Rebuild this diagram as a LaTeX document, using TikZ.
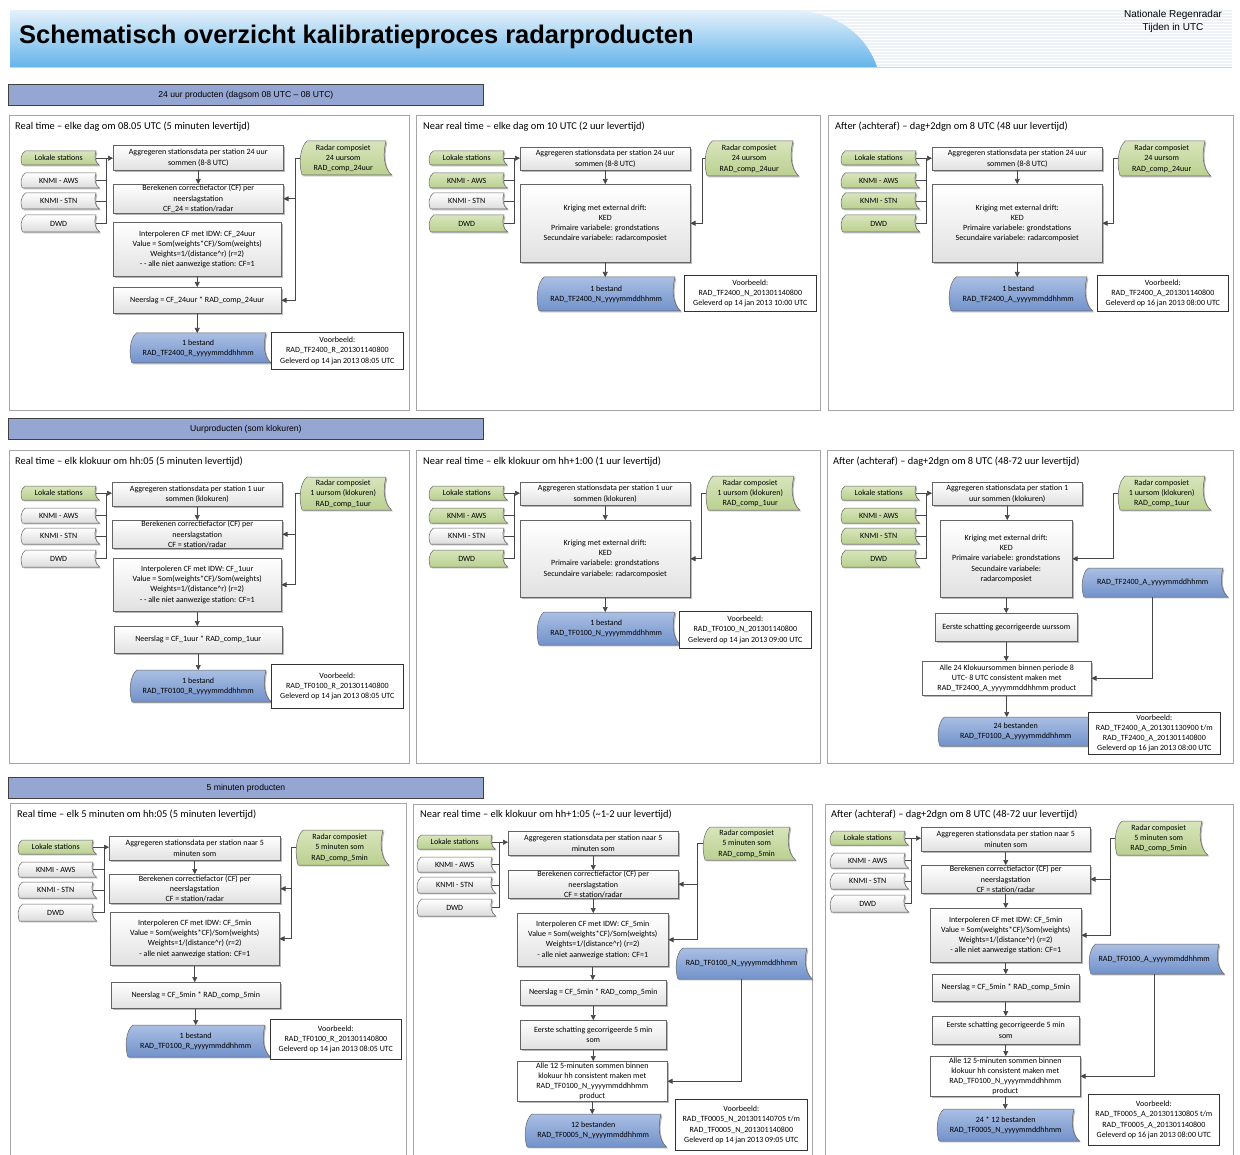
\documentclass[tikz,border=0pt]{standalone}
\usepackage{fontspec}
\setmainfont{Carlito}
\newfontfamily\arialf{Liberation Sans}
\usetikzlibrary{arrows.meta,shadows}
\definecolor{grnA}{RGB}{216,229,188}
\definecolor{grnB}{RGB}{186,208,144}
\definecolor{bluA}{RGB}{170,191,227}
\definecolor{bluB}{RGB}{114,146,203}
\definecolor{gryB}{RGB}{220,220,220}
\definecolor{boxB}{RGB}{225,225,225}
\definecolor{ec}{RGB}{100,100,100}
\definecolor{lc}{RGB}{70,70,70}
\definecolor{frm}{RGB}{165,165,165}
\definecolor{barF}{RGB}{150,166,210}
\definecolor{banA}{RGB}{228,241,251}
\definecolor{banB}{RGB}{100,180,234}
\definecolor{strp}{RGB}{236,242,248}
\tikzset{
 shad/.style={drop shadow={shadow xshift=1.4pt,shadow yshift=-1.4pt,opacity=0.28,fill=black}},
 txt/.style={font=\fontsize{8}{10.2}\selectfont, align=center, inner sep=0.5pt},
 box/.style={txt, draw=ec, line width=0.5pt, top color=white, bottom color=boxB, shad},
 wbox/.style={txt, draw=ec, line width=0.5pt, fill=white, shad},
 vbox/.style={txt, draw=black!80, line width=0.7pt, fill=white},
 tptxt/.style={txt, draw=none},
 tgrn/.style={draw=ec, line width=0.5pt, top color=grnA, bottom color=grnB, shad},
 tgry/.style={draw=ec, line width=0.5pt, top color=white, bottom color=gryB, shad},
 tblu/.style={draw=ec, line width=0.5pt, top color=bluA, bottom color=bluB, shad},
 lin/.style={draw=lc, line width=0.6pt},
 arr/.style={lin, -{Triangle[length=5pt,width=5pt]}},
 frame/.style={draw=frm, line width=0.8pt, fill=white, drop shadow={shadow xshift=1.2pt,shadow yshift=-1.2pt,opacity=0.22,fill=black}},
 secbar/.style={draw=black!75, line width=0.8pt, fill=barF, font=\arialf\fontsize{8.6}{10}\selectfont, inner sep=0pt},
 ptitle/.style={font=\fontsize{10.4}{12}\selectfont, anchor=west, inner sep=0pt},
}
% style, name, x1, y1, x2, y2, text
\newcommand\bx[7]{\node[#1, anchor=north west, minimum width={((#5)-(#3))*1pt}, minimum height={((#6)-(#4))*1pt}] (#2) at ({#3},{#4}) {#7};}
\newcommand\tp[7]{%
 \pgfmathsetmacro\tph{(#6)-(#4)}%
 \pgfmathsetmacro\tpa{2+0.15*\tph}%
 \path[#1] ({#3+\tpa},{#4}) -- ({#5},{#4})
   .. controls ({#5-0.5*\tpa},{#4+0.4*\tph}) and ({#5-0.3*\tpa},{#4+0.8*\tph}) .. ({#5+0.8*\tpa},{#6})
   -- ({#3+0.3*\tpa},{#6})
   .. controls ({#3-0.15*\tpa},{#4+0.75*\tph}) and ({#3-0.15*\tpa},{#4+0.2*\tph}) .. ({#3+\tpa},{#4}) -- cycle;
 \node[tptxt, anchor=north west, minimum width={((#5)-(#3))*1pt}, minimum height={((#6)-(#4))*1pt}] (#2) at ({#3},{#4}) {#7};}
% prefix, x, y, c1..c4, barx
\newcommand\stations[8]{%
 \tp{#4}{#1lok}{#2}{#3}{#2+75}{#3+14}{Lokale stations}%
 \tp{#5}{#1aws}{#2}{#3+22}{#2+75}{#3+37}{KNMI - AWS}%
 \tp{#6}{#1stn}{#2}{#3+42}{#2+75}{#3+58}{KNMI - STN}%
 \tp{#7}{#1dwd}{#2}{#3+64}{#2+75}{#3+81}{DWD}%
 \coordinate (#1bar) at ({#8},{#3});%
 \draw[lin] (#1aws.east) -- (#1aws.east -| #1bar);%
 \draw[lin] (#1stn.east) -- (#1stn.east -| #1bar);%
 \draw[lin] (#1dwd.east) -- (#1dwd.east -| #1bar) -- (#1lok.east -| #1bar);%
}
\newcommand\krigtxt{Kriging met external drift:\\KED\\Primaire variabele: grondstations\\Secundaire variabele: radarcomposiet}
\newcommand\idwtxt[2]{Interpoleren CF met IDW: CF\_#1\\Value = Som(weights*CF)/Som(weights)\\Weights=1/(distance\textasciicircum r) (r=2)\\#2 alle niet aanwezige station: CF=1}
\begin{document}
\begin{tikzpicture}[x=1pt,y=-1pt]
\useasboundingbox (0,0) rectangle (1240,1155);
\fill[white] (0,0) rectangle (1240,1155);
% header
\foreach \yy in {11,14,...,65} \draw[strp, line width=1.2pt] (10,\yy) -- (1232,\yy);
\path[top color=banA, bottom color=banB] (10,10) -- (785,10) .. controls (842,10) and (868,40) .. (877,67) -- (10,67) -- cycle;
\draw[gray!35, line width=0.6pt] (10,67.5) -- (1232,67.5);
\node[font=\arialf\bfseries\fontsize{25.5}{30}\selectfont, anchor=base west, inner sep=0pt] (title) at (19,44) {Schematisch overzicht kalibratieproces radarproducten};
\node[font=\arialf\fontsize{10}{13}\selectfont, align=center, inner sep=0pt] (org) at (1173,21) {Nationale Regenradar\\Tijden in UTC};
% section bars
\bx{secbar}{sb1}{8}{84}{483}{105}{24 uur producten (dagsom 08 UTC – 08 UTC)}
\bx{secbar}{sb2}{8}{418}{483}{439}{Uurproducten (som klokuren)}
\bx{secbar}{sb3}{8}{777}{483}{798}{5 minuten producten}
% frames
\path[frame] (9,115) rectangle (409,410);
\path[frame] (416,115) rectangle (820,410);
\path[frame] (828,115) rectangle (1233,410);
\path[frame] (9,450) rectangle (409,763);
\path[frame] (416,450) rectangle (820,763);
\path[frame] (827,450) rectangle (1233,763);
\path[frame] (10,803) rectangle (406,1170);
\path[frame] (413,804) rectangle (812,1170);
\path[frame] (825,804) rectangle (1233,1170);
% titles
\node[ptitle] (t1) at (15,127) {Real time – elke dag om 08.05 UTC (5 minuten levertijd)};
\node[ptitle] (t2) at (423,127) {Near real time – elke dag om 10 UTC (2 uur levertijd)};
\node[ptitle] (t3) at (835,127) {After (achteraf) – dag+2dgn om 8 UTC (48 uur levertijd)};
\node[ptitle] (t4) at (15,462) {Real time – elk klokuur om hh:05 (5 minuten levertijd)};
\node[ptitle] (t5) at (423,462) {Near real time – elk klokuur om hh+1:00 (1 uur levertijd)};
\node[ptitle] (t6) at (833,462) {After (achteraf) – dag+2dgn om 8 UTC (48-72 uur levertijd)};
\node[ptitle] (t7) at (17,815) {Real time – elk 5 minuten om hh:05 (5 minuten levertijd)};
\node[ptitle] (t8) at (420,815) {Near real time – elk klokuur om hh+1:05 (\textasciitilde1-2 uur levertijd)};
\node[ptitle] (t9) at (831,815) {After (achteraf) – dag+2dgn om 8 UTC (48-72 uur levertijd)};

% ===== panel 1
\stations{p1}{21}{151}{tgrn}{tgry}{tgry}{tgry}{106}
\bx{box}{p1agg}{113}{145}{283}{170}{Aggregeren stationsdata per station 24 uur\\sommen (8-8 UTC)}
\bx{box}{p1ber}{113}{184}{283}{213}{Berekenen correctiefactor (CF) per\\neerslagstation\\CF\_24 = station/radar}
\bx{box}{p1int}{113}{222}{281}{276}{\idwtxt{24uur}{- -}}
\bx{box}{p1nee}{113}{287}{281}{313}{Neerslag = CF\_24uur * RAD\_comp\_24uur}
\tp{tgrn}{p1rad}{300}{141}{386}{175}{Radar composiet\\24 uursom\\RAD\_comp\_24uur}
\tp{tblu}{p1out}{130}{333}{266}{363}{1 bestand\\RAD\_TF2400\_R\_yyyymmddhhmm}
\bx{vbox}{p1vb}{271}{332}{403}{369}{Voorbeeld:\\RAD\_TF2400\_R\_201301140800\\Geleverd op 14 jan 2013 08:05 UTC}
\coordinate (p1rb) at (295,0);
\draw[arr] (p1lok.east) -- (p1lok.east -| p1agg.west);
\draw[arr] (p1agg.south) -- (p1agg.south |- p1ber.north);
\draw[arr] (p1int.south) -- (p1int.south |- p1nee.north);
\draw[arr] (p1nee.south) -- (p1nee.south |- p1out.north);
\draw[arr] (p1rad.west) -- (p1rad.west -| p1rb) |- (p1nee.east);
\draw[arr] (p1ber.east -| p1rb) -- (p1ber.east);

% ===== panel 2
\stations{p2}{429}{151}{tgrn}{tgrn}{tgry}{tgrn}{514}
\bx{box}{p2agg}{520}{147}{690}{170}{Aggregeren stationsdata per station 24 uur\\sommen (8-8 UTC)}
\bx{box}{p2krg}{520}{184}{690}{262}{\krigtxt}
\tp{tgrn}{p2rad}{705}{141}{793}{176}{Radar composiet\\24 uursom\\RAD\_comp\_24uur}
\tp{tblu}{p2out}{537}{277}{675}{311}{1 bestand\\RAD\_TF2400\_N\_yyyymmddhhmm}
\bx{vbox}{p2vb}{684}{275}{816}{311}{Voorbeeld:\\RAD\_TF2400\_N\_201301140800\\Geleverd op 14 jan 2013 10:00 UTC}
\coordinate (p2rb) at (702,0);
\draw[arr] (p2lok.east) -- (p2lok.east -| p2agg.west);
\draw[arr] (p2agg.south) -- (p2agg.south |- p2krg.north);
\draw[arr] (p2krg.south) -- (p2krg.south |- p2out.north);
\draw[arr] (p2rad.west) -- (p2rad.west -| p2rb) |- (p2krg.east);

% ===== panel 3
\stations{p3}{841}{151}{tgrn}{tgrn}{tgrn}{tgrn}{926}
\bx{box}{p3agg}{932}{147}{1102}{170}{Aggregeren stationsdata per station 24 uur\\sommen (8-8 UTC)}
\bx{box}{p3krg}{932}{184}{1102}{262}{\krigtxt}
\tp{tgrn}{p3rad}{1118}{141}{1205}{176}{Radar composiet\\24 uursom\\RAD\_comp\_24uur}
\tp{tblu}{p3out}{949}{277}{1087}{311}{1 bestand\\RAD\_TF2400\_A\_yyyymmddhhmm}
\bx{vbox}{p3vb}{1097}{275}{1228}{311}{Voorbeeld:\\RAD\_TF2400\_A\_201301140800\\Geleverd op 16 jan 2013 08:00 UTC}
\coordinate (p3rb) at (1113,0);
\draw[arr] (p3lok.east) -- (p3lok.east -| p3agg.west);
\draw[arr] (p3agg.south) -- (p3agg.south |- p3krg.north);
\draw[arr] (p3krg.south) -- (p3krg.south |- p3out.north);
\draw[arr] (p3rad.west) -- (p3rad.west -| p3rb) |- (p3krg.east);

% ===== panel 4
\stations{p4}{21}{486}{tgrn}{tgry}{tgry}{tgry}{106}
\bx{box}{p4agg}{112}{482}{282}{506}{Aggregeren stationsdata per station 1 uur\\sommen (klokuren)}
\bx{box}{p4ber}{112}{520}{282}{548}{Berekenen correctiefactor (CF) per\\neerslagstation\\CF = station/radar}
\bx{box}{p4int}{113}{558}{281}{611}{\idwtxt{1uur}{- -}}
\bx{box}{p4nee}{114}{626}{282}{653}{Neerslag = CF\_1uur * RAD\_comp\_1uur}
\tp{tgrn}{p4rad}{300}{477}{386}{510}{Radar composiet\\1 uursom (klokuren)\\RAD\_comp\_1uur}
\tp{tblu}{p4out}{130}{670}{266}{702}{1 bestand\\RAD\_TF0100\_R\_yyyymmddhhmm}
\bx{vbox}{p4vb}{271}{664}{403}{708}{Voorbeeld:\\RAD\_TF0100\_R\_201301140800\\Geleverd op 14 jan 2013 08:05 UTC}
\coordinate (p4rb) at (295,0);
\draw[arr] (p4lok.east) -- (p4lok.east -| p4agg.west);
\draw[arr] (p4agg.south) -- (p4agg.south |- p4ber.north);
\draw[arr] (p4int.south) -- (p4int.south |- p4nee.north);
\draw[arr] (p4nee.south) -- (p4nee.south |- p4out.north);
\draw[arr] (p4rad.west) -- (p4rad.west -| p4rb) |- (p4int.east);
\draw[arr] (p4ber.east -| p4rb) -- (p4ber.east);

% ===== panel 5
\stations{p5}{429}{486}{tgrn}{tgrn}{tgry}{tgrn}{514}
\bx{box}{p5agg}{520}{482}{690}{505}{Aggregeren stationsdata per station 1 uur\\sommen (klokuren)}
\bx{box}{p5krg}{520}{520}{690}{597}{\krigtxt}
\tp{tgrn}{p5rad}{706}{476}{794}{510}{Radar composiet\\1 uursom (klokuren)\\RAD\_comp\_1uur}
\tp{tblu}{p5out}{537}{612}{675}{645}{1 bestand\\RAD\_TF0100\_N\_yyyymmddhhmm}
\bx{vbox}{p5vb}{679}{611}{811}{648}{Voorbeeld:\\RAD\_TF0100\_N\_201301140800\\Geleverd op 14 jan 2013 09:00 UTC}
\coordinate (p5rb) at (701,0);
\draw[arr] (p5lok.east) -- (p5lok.east -| p5agg.west);
\draw[arr] (p5agg.south) -- (p5agg.south |- p5krg.north);
\draw[arr] (p5krg.south) -- (p5krg.south |- p5out.north);
\draw[arr] (p5rad.west) -- (p5rad.west -| p5rb) |- (p5krg.east);

% ===== panel 6
\stations{p6}{841}{486}{tgrn}{tgrn}{tgrn}{tgrn}{926}
\bx{box}{p6agg}{932}{482}{1082}{505}{Aggregeren stationsdata per station 1\\uur sommen (klokuren)}
\bx{box}{p6krg}{940}{520}{1072}{597}{Kriging met external drift:\\KED\\Primaire variabele: grondstations\\Secundaire variabele:\\radarcomposiet}
\tp{tgrn}{p6rad}{1118}{476}{1205}{510}{Radar composiet\\1 uursom (klokuren)\\RAD\_comp\_1uur}
\tp{tblu}{p6tf}{1082}{568}{1223}{597}{RAD\_TF2400\_A\_yyyymmddhhmm}
\bx{box}{p6eer}{935}{613}{1077}{641}{Eerste schatting gecorrigeerde uurssom}
\bx{wbox}{p6all}{922}{661}{1091}{695}{Alle 24 Klokuursommen binnen periode 8\\UTC- 8 UTC consistent maken met\\RAD\_TF2400\_A\_yyyymmddhhmm product}
\tp{tblu}{p6out}{938}{717}{1093}{746}{24 bestanden\\RAD\_TF0100\_A\_yyyymmddhhmm}
\bx{vbox}{p6vb}{1088}{712}{1220}{754}{Voorbeeld:\\RAD\_TF2400\_A\_201301130900 t/m\\RAD\_TF2400\_A\_201301140800\\Geleverd op 16 jan 2013 08:00 UTC}
\coordinate (p6rb) at (1113,0);
\draw[arr] (p6lok.east) -- (p6lok.east -| p6agg.west);
\draw[arr] (p6agg.south) -- (p6agg.south |- p6krg.north);
\draw[arr] (p6krg.south) -- (p6krg.south |- p6eer.north);
\draw[arr] (p6eer.south) -- (p6eer.south |- p6all.north);
\draw[arr] (p6all.south) -- (p6all.south |- p6out.north);
\draw[arr] (p6rad.west) -- (p6rad.west -| p6rb) |- (p6krg.east);
\draw[arr] (p6tf.south) |- (p6all.east);

% ===== panel 7
\stations{p7}{18}{840}{tgrn}{tgry}{tgry}{tgry}{104}
\bx{box}{p7agg}{109}{836}{280}{860}{Aggregeren stationsdata per station naar 5\\minuten som}
\bx{box}{p7ber}{109}{874}{280}{903}{Berekenen correctiefactor (CF) per\\neerslagstation\\CF = station/radar}
\bx{box}{p7int}{110}{912}{279}{965}{\idwtxt{5min}{-}}
\bx{box}{p7nee}{111}{982}{280}{1008}{Neerslag = CF\_5min * RAD\_comp\_5min}
\tp{tgrn}{p7rad}{296}{830}{383}{865}{Radar composiet\\5 minuten som\\RAD\_comp\_5min}
\tp{tblu}{p7out}{126}{1025}{265}{1057}{1 bestand\\RAD\_TF0100\_R\_yyyymmddhhmm}
\bx{vbox}{p7vb}{270}{1019}{401}{1059}{Voorbeeld:\\RAD\_TF0100\_R\_201301140800\\Geleverd op 14 jan 2013 08:05 UTC}
\coordinate (p7rb) at (291,0);
\draw[arr] (p7lok.east) -- (p7lok.east -| p7agg.west);
\draw[arr] (p7agg.south) -- (p7agg.south |- p7ber.north);
\draw[arr] (p7int.south) -- (p7int.south |- p7nee.north);
\draw[arr] (p7nee.south) -- (p7nee.south |- p7out.north);
\draw[arr] (p7rad.west) -- (p7rad.west -| p7rb) |- (p7int.east);
\draw[arr] (p7ber.east -| p7rb) -- (p7ber.east);

% ===== panel 8
\stations{p8}{417}{835}{tgrn}{tgry}{tgry}{tgry}{499}
\bx{box}{p8agg}{508}{831}{678}{855}{Aggregeren stationsdata per station naar 5\\minuten som}
\bx{box}{p8ber}{508}{870}{678}{898}{Berekenen correctiefactor (CF) per\\neerslagstation\\CF = station/radar}
\bx{box}{p8int}{517}{913}{668}{966}{\idwtxt{5min}{-}}
\bx{box}{p8nee}{520}{980}{666}{1005}{Neerslag = CF\_5min * RAD\_comp\_5min}
\bx{box}{p8eer}{520}{1020}{666}{1049}{Eerste schatting gecorrigeerde 5 min\\som}
\bx{wbox}{p8all}{517}{1061}{667}{1101}{Alle 12 5-minuten sommen binnen\\klokuur hh consistent maken met\\RAD\_TF0100\_N\_yyyymmddhhmm\\product}
\tp{tblu}{p8out}{525}{1114}{661}{1147}{12 bestanden\\RAD\_TF0005\_N\_yyyymmddhhmm}
\bx{vbox}{p8vb}{675}{1099}{807}{1150}{Voorbeeld:\\RAD\_TF0005\_N\_201301140705 t/m\\RAD\_TF0005\_N\_201301140800\\Geleverd op 14 jan 2013 09:05 UTC}
\tp{tgrn}{p8rad}{703}{827}{790}{860}{Radar composiet\\5 minuten som\\RAD\_comp\_5min}
\tp{tblu}{p8tf}{676}{948}{807}{979}{RAD\_TF0100\_N\_yyyymmddhhmm}
\coordinate (p8rb) at (697,0);
\draw[arr] (p8lok.east) -- (p8lok.east -| p8agg.west);
\draw[arr] (p8agg.south) -- (p8agg.south |- p8ber.north);
\draw[arr] (p8ber.south) -- (p8ber.south |- p8int.north);
\draw[arr] (p8int.south) -- (p8int.south |- p8nee.north);
\draw[arr] (p8nee.south) -- (p8nee.south |- p8eer.north);
\draw[arr] (p8eer.south) -- (p8eer.south |- p8all.north);
\draw[arr] (p8all.south) -- (p8all.south |- p8out.north);
\draw[arr] (p8rad.west) -- (p8rad.west -| p8rb) |- (p8int.east);
\draw[arr] (p8ber.east -| p8rb) -- (p8ber.east);
\draw[arr] (p8tf.south) |- (p8all.east);

% ===== panel 9
\stations{p9}{830}{831}{tgrn}{tgry}{tgry}{tgry}{911}
\bx{box}{p9agg}{921}{827}{1090}{851}{Aggregeren stationsdata per station naar 5\\minuten som}
\bx{box}{p9ber}{921}{865}{1090}{893}{Berekenen correctiefactor (CF) per\\neerslagstation\\CF = station/radar}
\bx{box}{p9int}{930}{908}{1081}{962}{\idwtxt{5min}{-}}
\bx{box}{p9nee}{932}{974}{1079}{1001}{Neerslag = CF\_5min * RAD\_comp\_5min}
\bx{box}{p9eer}{932}{1016}{1079}{1044}{Eerste schatting gecorrigeerde 5 min\\som}
\bx{wbox}{p9all}{930}{1056}{1080}{1096}{Alle 12 5-minuten sommen binnen\\klokuur hh consistent maken met\\RAD\_TF0100\_N\_yyyymmddhhmm\\product}
\tp{tblu}{p9out}{937}{1109}{1074}{1141}{24 * 12 bestanden\\RAD\_TF0005\_N\_yyyymmddhhmm}
\bx{vbox}{p9vb}{1088}{1094}{1219}{1145}{Voorbeeld:\\RAD\_TF0005\_A\_201301130805 t/m\\RAD\_TF0005\_A\_201301140800\\Geleverd op 16 jan 2013 08:00 UTC}
\tp{tgrn}{p9rad}{1115}{821}{1202}{855}{Radar composiet\\5 minuten som\\RAD\_comp\_5min}
\tp{tblu}{p9tf}{1089}{944}{1219}{974}{RAD\_TF0100\_A\_yyyymmddhhmm}
\coordinate (p9rb) at (1110,0);
\draw[arr] (p9lok.east) -- (p9lok.east -| p9agg.west);
\draw[arr] (p9agg.south) -- (p9agg.south |- p9ber.north);
\draw[arr] (p9ber.south) -- (p9ber.south |- p9int.north);
\draw[arr] (p9int.south) -- (p9int.south |- p9nee.north);
\draw[arr] (p9nee.south) -- (p9nee.south |- p9eer.north);
\draw[arr] (p9eer.south) -- (p9eer.south |- p9all.north);
\draw[arr] (p9all.south) -- (p9all.south |- p9out.north);
\draw[arr] (p9rad.west) -- (p9rad.west -| p9rb) |- (p9int.east);
\draw[arr] (p9ber.east -| p9rb) -- (p9ber.east);
\draw[arr] (p9tf.south) |- (p9all.east);
\end{tikzpicture}
\end{document}
